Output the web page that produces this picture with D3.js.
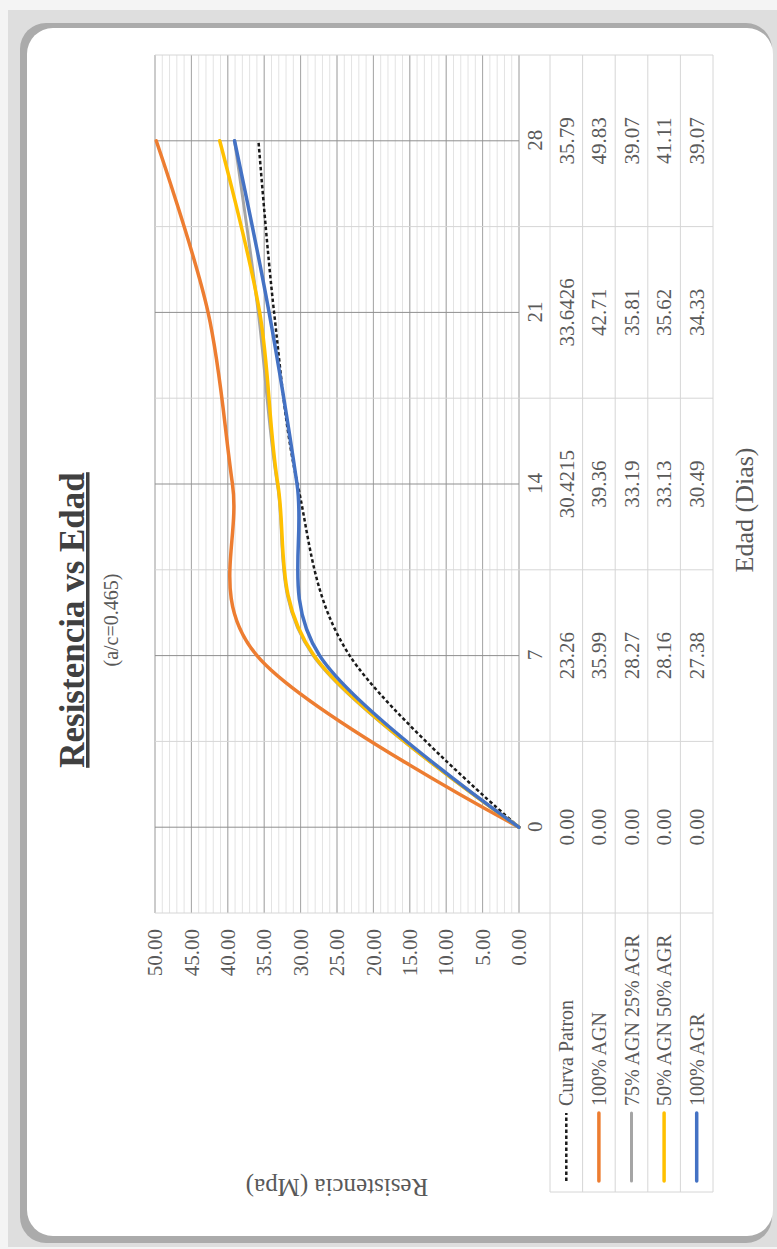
<!DOCTYPE html>
<html>
<head>
<meta charset="utf-8">
<script src="https://cdn.jsdelivr.net/npm/d3@7"></script>
<style>
  html, body { margin: 0; padding: 0; background: #f4f4f4; }
  svg { display: block; }
  text { font-family: "Liberation Serif", "Times New Roman", serif; }
</style>
</head>
<body>
<svg id="chart" width="777" height="1249"></svg>
<script>
// Compressive strength vs age, one row of the data table per mix
const categories = ["0", "7", "14", "21", "28"];
const curvaPatron = ["0.00", "23.26", "30.4215", "33.6426", "35.79"];
const agn100 = ["0.00", "35.99", "39.36", "42.71", "49.83"];
const agn75agr25 = ["0.00", "28.27", "33.19", "35.81", "39.07"];
const agn50agr50 = ["0.00", "28.16", "33.13", "35.62", "41.11"];
const agr100 = ["0.00", "27.38", "30.49", "34.33", "39.07"];
const seriesNames = ["Curva Patron", "100% AGN", "75% AGN 25% AGR", "50% AGN 50% AGR", "100% AGR"];
const valueTicks = [0, 5, 10, 15, 20, 25, 30, 35, 40, 45, 50];

const seriesRows = [curvaPatron, agn100, agn75agr25, agn50agr50, agr100];
const seriesStyle = [
  { color: "#1a1a1a", width: 2.5, dash: "3.5,2.5", cap: "butt" },
  { color: "#ED7D31", width: 3.5, dash: null, cap: "round" },
  { color: "#A5A5A5", width: 3, dash: null, cap: "round" },
  { color: "#FFC000", width: 3.5, dash: null, cap: "round" },
  { color: "#4472C4", width: 3.5, dash: null, cap: "round" }
];

const svg = d3.select("#chart");
const PAGE_W = 777, PAGE_H = 1249;

// ---- framed card ----
svg.append("rect").attr("x", 0).attr("y", 0).attr("width", PAGE_W).attr("height", PAGE_H).attr("fill", "#f4f4f4");
svg.append("rect").attr("x", 8).attr("y", 10).attr("width", 769).attr("height", 1237).attr("fill", "#dedede");
svg.append("rect").attr("x", 20).attr("y", 23).attr("width", 752).attr("height", 1220).attr("rx", 26).attr("fill", "#ababab");
svg.append("rect").attr("x", 27).attr("y", 28).attr("width", 746).attr("height", 1208).attr("rx", 26).attr("fill", "#ffffff");

// The chart is laid out in its own frame (u across, v down) and turned a quarter turn.
const g = svg.append("g").attr("transform", `translate(0,${PAGE_H}) rotate(-90)`);

const plot = { u0: 336, u1: 1194, v0: 155, v1: 519 };
const table = { uLeft: 57, v0: 550, v1: 713 };
const rowH = (table.v1 - table.v0) / seriesRows.length;
const FS = 21;

const x = d3.scalePoint().domain(categories).range([plot.u0, plot.u1]).padding(0.5);
const y = d3.scaleLinear().domain([0, 50]).range([plot.v1, plot.v0]);
const step = x.step();

// ---- gridlines ----
const grid = g.append("g");
grid.selectAll(".minor").data(d3.range(0, 51)).join("line")
  .attr("x1", plot.u0).attr("x2", plot.u1)
  .attr("y1", d => y(d)).attr("y2", d => y(d))
  .attr("stroke", "#e3e3e3").attr("stroke-width", 1);
grid.selectAll(".major").data(valueTicks).join("line")
  .attr("x1", plot.u0).attr("x2", plot.u1)
  .attr("y1", d => y(d)).attr("y2", d => y(d))
  .attr("stroke", "#a6a6a6").attr("stroke-width", 1);

// band edges run through the plot and down through the data table
const edges = d3.range(categories.length + 1).map(i => plot.u0 + i * step);
grid.selectAll(".edge").data(edges).join("line")
  .attr("x1", d => d).attr("x2", d => d)
  .attr("y1", plot.v0).attr("y2", table.v1)
  .attr("stroke", "#d6d6d6").attr("stroke-width", 1);
// category gridlines through each data point
grid.selectAll(".cat").data(categories).join("line")
  .attr("x1", d => x(d)).attr("x2", d => x(d))
  .attr("y1", plot.v0).attr("y2", plot.v1)
  .attr("stroke", "#8f8f8f").attr("stroke-width", 1);

// ---- data table ----
const tbl = g.append("g");
tbl.selectAll(".row").data(d3.range(seriesRows.length + 1)).join("line")
  .attr("x1", table.uLeft).attr("x2", plot.u1)
  .attr("y1", i => table.v0 + i * rowH).attr("y2", i => table.v0 + i * rowH)
  .attr("stroke", "#d6d6d6").attr("stroke-width", 1);
tbl.append("line").attr("x1", table.uLeft).attr("x2", table.uLeft)
  .attr("y1", table.v0).attr("y2", table.v1).attr("stroke", "#d6d6d6");

seriesRows.forEach((row, r) => {
  const vc = table.v0 + (r + 0.5) * rowH;
  tbl.selectAll(null).data(row).join("text")
    .attr("x", (d, i) => x(categories[i]))
    .attr("y", vc)
    .attr("dy", "0.35em")
    .attr("text-anchor", "middle")
    .attr("font-size", FS)
    .attr("fill", "#595959")
    .text(d => d);
  // legend key and series name
  const st = seriesStyle[r];
  tbl.append("line")
    .attr("x1", 68).attr("x2", 136).attr("y1", vc).attr("y2", vc)
    .attr("stroke", st.color).attr("stroke-width", st.width)
    .attr("stroke-dasharray", st.dash).attr("stroke-linecap", st.cap);
  tbl.append("text")
    .attr("x", 143).attr("y", vc).attr("dy", "0.35em")
    .attr("font-size", 20).attr("fill", "#595959")
    .text(seriesNames[r]);
});

// ---- axes ----
const yAxis = g.append("g").attr("transform", `translate(${plot.u0},0)`)
  .call(d3.axisLeft(y).tickValues(valueTicks).tickFormat(d3.format(".2f")).tickSize(0).tickPadding(16));
const xAxis = g.append("g").attr("transform", `translate(0,${plot.v1})`)
  .call(d3.axisBottom(x).tickSize(0).tickPadding(8));
[yAxis, xAxis].forEach(a => {
  a.select(".domain").remove();
  a.selectAll("text").attr("font-size", FS).attr("fill", "#595959")
    .attr("font-family", "Liberation Serif, Times New Roman, serif");
});

// ---- series lines ----
const line = d3.line()
  .x((d, i) => x(categories[i]))
  .y(d => y(+d))
  .curve(d3.curveCatmullRom.alpha(0));
g.append("g").selectAll("path").data(seriesRows).join("path")
  .attr("d", d => line(d))
  .attr("fill", "none")
  .attr("stroke", (d, i) => seriesStyle[i].color)
  .attr("stroke-width", (d, i) => seriesStyle[i].width)
  .attr("stroke-dasharray", (d, i) => seriesStyle[i].dash)
  .attr("stroke-linecap", (d, i) => seriesStyle[i].cap)
  .attr("stroke-linejoin", "round");

// ---- titles ----
const titleU = 629;
g.append("text").attr("x", titleU).attr("y", 84).attr("text-anchor", "middle")
  .attr("font-size", 35).attr("font-weight", "bold").attr("fill", "#404040")
  .attr("text-decoration", "underline")
  .text("Resistencia vs Edad");
g.append("text").attr("x", titleU).attr("y", 118).attr("text-anchor", "middle")
  .attr("font-size", 20).attr("fill", "#595959")
  .text("(a/c=0.465)");
g.append("text").attr("x", 739).attr("y", 753).attr("text-anchor", "middle")
  .attr("font-size", 26).attr("fill", "#595959")
  .text("Edad (Dias)");
g.append("text")
  .attr("transform", `translate(61,${(plot.v0 + plot.v1) / 2}) rotate(-90)`)
  .attr("dy", "0.35em").attr("text-anchor", "middle")
  .attr("font-size", 25).attr("fill", "#595959")
  .text("Resistencia (Mpa)");
</script>
</body>
</html>
